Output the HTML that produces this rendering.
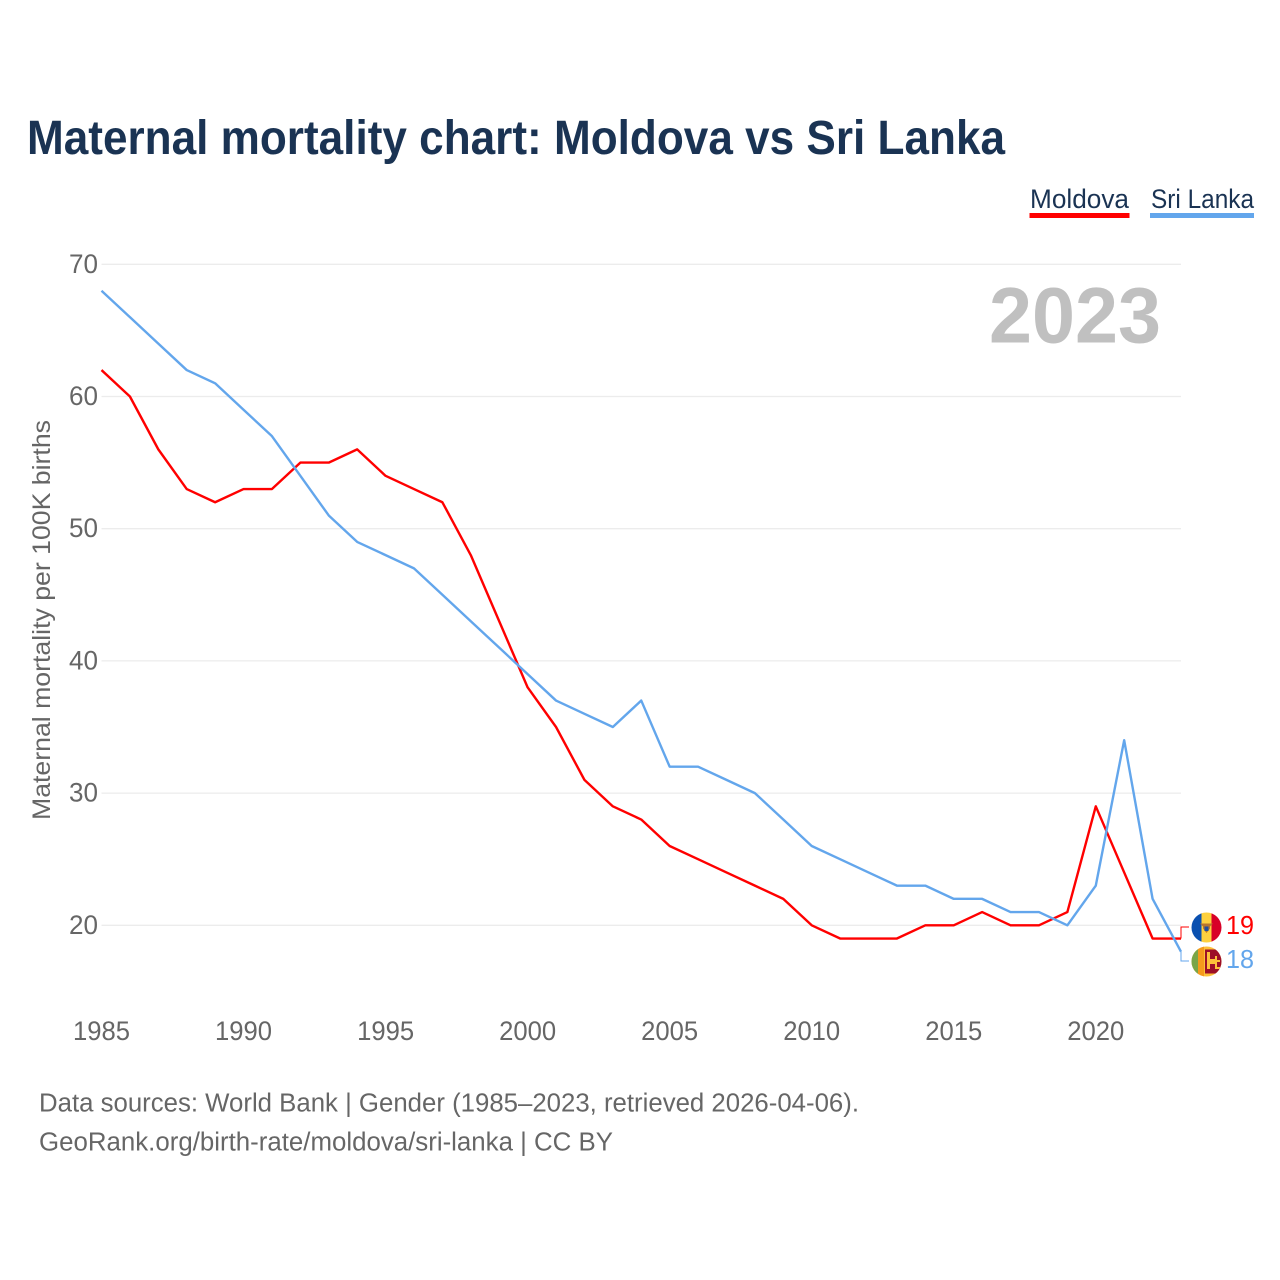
<!DOCTYPE html>
<html lang="en">
<head>
<meta charset="utf-8">
<title>Maternal mortality chart: Moldova vs Sri Lanka</title>
<style>
html,body{margin:0;padding:0;background:#fff;}
svg{display:block;}
text{font-family:"Liberation Sans",sans-serif;}
</style>
</head>
<body>
<svg id="chart" xmlns="http://www.w3.org/2000/svg" width="1280" height="1280" viewBox="0 0 1280 1280">
  <rect width="1280" height="1280" fill="#ffffff"/>
  <text x="27" y="154" font-size="48" font-weight="700" fill="#1a3353" textLength="978" lengthAdjust="spacingAndGlyphs">Maternal mortality chart: Moldova vs Sri Lanka</text>
  <g>
    <g>
      <text x="1030" y="208" font-size="26.500" fill="#1a3353" textLength="99" lengthAdjust="spacingAndGlyphs">Moldova</text>
      <rect x="1029.5" y="213" width="100" height="5" fill="#ff0000"/>
    </g>
    <g>
      <text x="1151" y="208" font-size="26.500" fill="#1a3353" textLength="103" lengthAdjust="spacingAndGlyphs">Sri Lanka</text>
      <rect x="1150" y="213" width="104" height="5" fill="#63a6ec"/>
    </g>
  </g>
  <g id="grid"></g>
  <g id="yticks"></g>
  <g id="xticks"></g>
  <text transform="translate(50,820) rotate(-90)" x="0" y="0" font-size="25" fill="#666666" textLength="400" lengthAdjust="spacingAndGlyphs">Maternal mortality per 100K births</text>
  <text x="989" y="342.500" font-size="79" font-weight="700" fill="#c0c0c0" textLength="172" lengthAdjust="spacingAndGlyphs">2023</text>
  <g id="series"></g>
  <defs>
    <clipPath id="clip-md"><circle cx="1206.5" cy="927.5" r="15"/></clipPath>
    <clipPath id="clip-lk"><circle cx="1206.5" cy="961.5" r="15"/></clipPath>
  </defs>
  <g clip-path="url(#clip-md)">
    <rect x="1191" y="912" width="10.500" height="31" fill="#0a50b0"/>
    <rect x="1201.5" y="912" width="10" height="31" fill="#fdd13f"/>
    <rect x="1211.5" y="912" width="10.500" height="31" fill="#d80027"/>
    <path d="M1200 923.500h13l-3 3v2l-3.500 4.500l-3.500-4.500v-2z" fill="#b8762e"/>
    <rect x="1204.5" y="926.500" width="4" height="4.500" fill="#1f4f9f"/>
  </g>
  <g clip-path="url(#clip-lk)">
    <rect x="1191" y="946" width="31" height="31" fill="#fdc03a"/>
    <rect x="1191" y="946" width="7" height="31" fill="#7aa548"/>
    <rect x="1198" y="946" width="6" height="31" fill="#f59a1c"/>
    <rect x="1205" y="949.500" width="17" height="24" fill="#9c0f28"/>
    <path d="M1207 952h3v7h5v-3h2v4h3v2h-3v5h3v2h-5v-5h-5v5h-3z" fill="#fdc03a"/>
  </g>
  <text x="1226" y="934" font-size="26" fill="#ff0000" textLength="28" lengthAdjust="spacingAndGlyphs">19</text>
  <text x="1226" y="968" font-size="26" fill="#63a6ec" textLength="28" lengthAdjust="spacingAndGlyphs">18</text>
  <text x="39" y="1111.500" font-size="25.500" fill="#666666" textLength="820" lengthAdjust="spacingAndGlyphs">Data sources: World Bank | Gender (1985–2023, retrieved 2026-04-06).</text>
  <text x="39" y="1150.500" font-size="25.500" fill="#666666" textLength="574" lengthAdjust="spacingAndGlyphs">GeoRank.org/birth-rate/moldova/sri-lanka | CC BY</text>
</svg>
<script>
const years = [1985,1986,1987,1988,1989,1990,1991,1992,1993,1994,1995,1996,1997,1998,1999,2000,2001,2002,2003,2004,2005,2006,2007,2008,2009,2010,2011,2012,2013,2014,2015,2016,2017,2018,2019,2020,2021,2022,2023];
const moldova = [62,60,56,53,52,53,53,55,55,56,54,53,52,48,43,38,35,31,29,28,26,25,24,23,22,20,19,19,19,20,20,21,20,20,21,29,24,19,19];
const sriLanka = [68,66,64,62,61,59,57,54,51,49,48,47,45,43,41,39,37,36,35,37,32,32,31,30,28,26,25,24,23,23,22,22,21,21,20,23,34,22,18];
const yTickValues = [20,30,40,50,60,70];
const xTickValues = [1985,1990,1995,2000,2005,2010,2015,2020];

const NS = 'http://www.w3.org/2000/svg';
function xScale(year){ return 101.5 + (year - 1985) * (1181 - 101.5) / 38; }
function yScale(value){ return 925.3 - (value - 20) * (925.3 - 264.3) / 50; }
function make(tag, attrs, parent){
  const el = document.createElementNS(NS, tag);
  for (const k in attrs) el.setAttribute(k, attrs[k]);
  parent.appendChild(el);
  return el;
}
const grid = document.getElementById('grid');
const yticks = document.getElementById('yticks');
const xticks = document.getElementById('xticks');
const seriesGroup = document.getElementById('series');

yTickValues.forEach(function(v){
  const line = make('line', {x1:101.5, x2:1181, y1:yScale(v), y2:yScale(v), stroke:'#ececec', 'stroke-width':1.3}, grid);
  
  
  const label = make('text', {x:98, y:yScale(v) + 8.5, 'font-size':26.5, fill:'#666666', 'text-anchor':'end', textLength:29, lengthAdjust:'spacingAndGlyphs'}, yticks);
  
  
  label.textContent = String(v);
});
xTickValues.forEach(function(v){
  const label = make('text', {x:xScale(v), y:1040, 'font-size':26.5, fill:'#666666', 'text-anchor':'middle', textLength:57, lengthAdjust:'spacingAndGlyphs'}, xticks);
  
  
  label.textContent = String(v);
});
function pathFor(values){
  return values.map(function(v, i){ return (i ? 'L' : 'M') + xScale(years[i]).toFixed(2) + ' ' + yScale(v).toFixed(2); }).join('');
}
const lineMd = make('path', {d:pathFor(moldova), fill:'none', stroke:'#ff0000', 'stroke-width':2.4, 'stroke-linejoin':'round'}, seriesGroup);


const lineLk = make('path', {d:pathFor(sriLanka), fill:'none', stroke:'#63a6ec', 'stroke-width':2.4, 'stroke-linejoin':'round'}, seriesGroup);



const lastX = xScale(years[years.length - 1]);
const connMd = make('path', {d:'M' + lastX + ' ' + yScale(moldova[moldova.length - 1]) + 'V927H1189', fill:'none', stroke:'#ff0000', 'stroke-width':1}, seriesGroup);


const connLk = make('path', {d:'M' + lastX + ' ' + yScale(sriLanka[sriLanka.length - 1]) + 'V961H1189', fill:'none', stroke:'#63a6ec', 'stroke-width':1}, seriesGroup);


</script>
</body>
</html>
